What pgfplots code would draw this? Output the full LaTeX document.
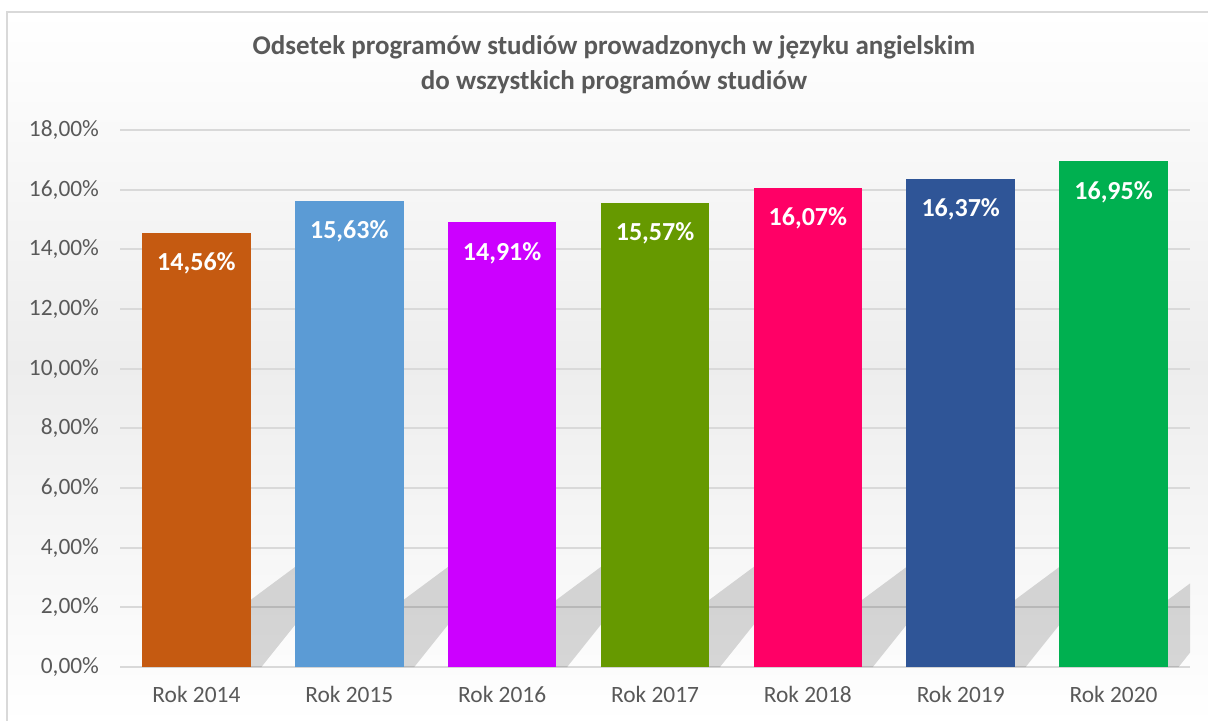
\documentclass[border=0pt]{standalone}
\usepackage{pgfplots}
\pgfplotsset{compat=1.18}
\usepackage{fontspec}
\setmainfont{Carlito}
\pgfkeys{/pgf/number format/assume math mode=true}
\definecolor{txt}{HTML}{595959}
\definecolor{gridc}{HTML}{D9D9D9}
\definecolor{bordc}{HTML}{D9D9D9}
\definecolor{cA}{HTML}{C55A11}
\definecolor{cB}{HTML}{5B9BD5}
\definecolor{cC}{HTML}{CC00FF}
\definecolor{cD}{HTML}{669900}
\definecolor{cE}{HTML}{FF0066}
\definecolor{cF}{HTML}{2F5597}
\definecolor{cG}{HTML}{00B050}
\pgfplotsset{
  mybar/.style={ybar, bar width=0.71, bar shift=0pt, fill=#1, draw=none,
    nodes near coords={\pgfmathprintnumber[fixed,fixed zerofill,precision=2,use comma]{\pgfplotspointmeta}\%},
    every node near coord/.append style={anchor=center, yshift=-15.5pt, text=white,
      font=\bfseries\fontsize{13}{15}\selectfont}},
  shadow/.style={fill=black, fill opacity=0.15, draw=none, forget plot}
}
\begin{document}
\begin{tikzpicture}
\useasboundingbox (0,0) rectangle (604pt,360pt);
\clip (0,0) rectangle (604pt,360pt);
\shade[top color=white, bottom color=white, middle color=gray!14] (3.5pt,-2pt) rectangle (608pt,354.25pt);
\draw[bordc, line width=1pt] (3.5pt,-2pt) -- (3.5pt,354.25pt) -- (608pt,354.25pt);
\node[align=center, text=txt, font=\bfseries\fontsize{13.5}{17.5}\selectfont] at (307pt,327.5pt)
  {Odsetek programów studiów prowadzonych w języku angielskim\\do wszystkich programów studiów};
\begin{axis}[
  at={(60pt,26.5pt)}, anchor=south west,
  scale only axis, width=535pt, height=268.5pt,
  xmin=-0.5, xmax=6.5, ymin=0, ymax=18,
  ytick={0,2,...,18},
  xtick={0,...,6},
  xticklabels={Rok 2014,Rok 2015,Rok 2016,Rok 2017,Rok 2018,Rok 2019,Rok 2020},
  yticklabel={\pgfmathprintnumber[fixed,fixed zerofill,precision=2,use comma]{\tick}\%},
  ymajorgrids, major grid style={gridc, line width=1pt},
  axis line style={draw=none},
  tick style={draw=none},
  ticklabel style={text=txt, font=\fontsize{11.7}{14}\selectfont},
  yticklabel style={xshift=-7pt},
  xticklabel style={yshift=-6pt},
]
\addplot[shadow] coordinates {(-0.355,0)(0.425,0)(0.955,3.4)(0.955,4.53)(0.355,2.25)} --cycle;
\addplot[shadow] coordinates {(0.645,0)(1.425,0)(1.955,3.4)(1.955,4.53)(1.355,2.25)} --cycle;
\addplot[shadow] coordinates {(1.645,0)(2.425,0)(2.955,3.4)(2.955,4.53)(2.355,2.25)} --cycle;
\addplot[shadow] coordinates {(2.645,0)(3.425,0)(3.955,3.4)(3.955,4.53)(3.355,2.25)} --cycle;
\addplot[shadow] coordinates {(3.645,0)(4.425,0)(4.955,3.4)(4.955,4.53)(4.355,2.25)} --cycle;
\addplot[shadow] coordinates {(4.645,0)(5.425,0)(5.955,3.4)(5.955,4.53)(5.355,2.25)} --cycle;
\addplot[shadow] coordinates {(5.645,0)(6.425,0)(6.955,3.4)(6.955,4.53)(6.355,2.25)} --cycle;
\addplot[mybar=cA] coordinates {(0,14.56)};
\addplot[mybar=cB] coordinates {(1,15.63)};
\addplot[mybar=cC] coordinates {(2,14.91)};
\addplot[mybar=cD] coordinates {(3,15.57)};
\addplot[mybar=cE] coordinates {(4,16.07)};
\addplot[mybar=cF] coordinates {(5,16.37)};
\addplot[mybar=cG] coordinates {(6,16.95)};
\end{axis}
\end{tikzpicture}
\end{document}
